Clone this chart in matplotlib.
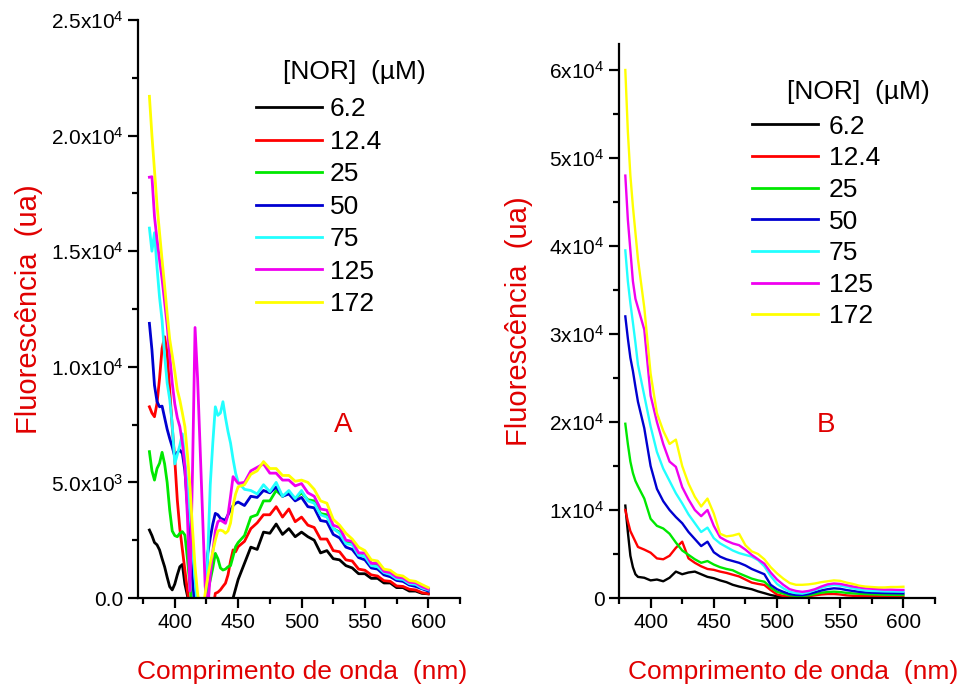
import matplotlib
matplotlib.use('Agg')
import matplotlib.pyplot as plt
from matplotlib.ticker import MultipleLocator

plt.rcParams['font.family'] = ['Liberation Sans', 'DejaVu Sans']
plt.rcParams['mathtext.fontset'] = 'custom'
plt.rcParams['mathtext.rm'] = 'Liberation Sans'
plt.rcParams['mathtext.it'] = 'Liberation Sans:italic'
plt.rcParams['mathtext.bf'] = 'Liberation Sans:bold'

# ---------------- data ----------------
concentrations = ['6.2', '12.4', '25', '50', '75', '125', '172']
colors = ['#000000', '#ff0000', '#00e800', '#0000d0', '#22ffff', '#f000f0', '#ffff00']

wl_a = [380, 382, 384, 386, 388, 390, 392, 394, 396, 398, 400, 402, 404, 406, 408, 410,
        412, 414, 416, 418, 420, 422, 424, 426, 428, 430, 432, 434, 436, 438, 440, 442,
        444, 446, 448, 450,
        455, 460, 465, 470, 475, 480, 485, 490, 495,
        500, 505, 510, 515, 520, 525, 530, 535, 540, 545, 550, 555, 560, 565, 570, 575,
        580, 585, 590, 595, 600]

a_62 = [2940, 2700, 2400, 2300, 2080, 1700, 1350, 900, 490, 350, 600, 1000, 1350, 1450, 600, 100,
        -500, -500, -500, -500, -500, -500, -500, -500, -500, -500, -500, -500, -500, -500, -500, -500,
        -200, 0, 400, 800,
        1500, 2200, 2100, 2850, 2800, 3200, 2750, 3000, 2650,
        2850, 2650, 2500, 1950, 2050, 1700, 1650, 1400, 1300, 1050, 1050, 850, 850, 650, 650, 450,
        450, 300, 300, 200, 180]
a_124 = [8270, 8000, 7840, 8420, 9500, 10800, 11300, 10580, 9000, 7400, 6000, 4240, 3000, 2100, 1200, 300,
         -500, -500, -500, -500, -500, -500, -500, -500, -500, -500, 200, 250, 350, 500, 640, 1000,
         1600, 2080, 2000, 2220,
         2450, 3000, 3250, 3600, 3600, 3950, 3500, 3850, 3300,
         3500, 3150, 3050, 2550, 2550, 2050, 2000, 1650, 1600, 1250, 1200, 1000, 950, 750, 720, 520,
         500, 380, 350, 230, 180]
a_25 = [6330, 5500, 5100, 5600, 5830, 6300, 5800, 5000, 3800, 2900, 2700, 2650, 2800, 2870, 2720, 1700,
        500, -500, -500, -500, -500, -500, -500, 300, 780, 1300, 1930, 1700, 1300, 1210, 1250, 1350,
        1400, 1800, 2220, 2400,
        2700, 3500, 3600, 4200, 4200, 4650, 4400, 4550, 4300,
        4550, 4250, 4200, 3650, 3600, 3000, 2850, 2400, 2350, 1900, 1800, 1500, 1400, 1150, 1050, 860,
        820, 670, 620, 460, 380]
a_50 = [11880, 10730, 9200, 8500, 8270, 8300, 7800, 7300, 6900, 6540, 6110, 6300, 6400, 6250, 5500, 4000,
        2500, 800, -500, -500, -500, -500, -500, 1930, 2600, 3200, 3660, 3600, 3450, 3400, 3370, 3600,
        3800, 4000, 4100, 4150,
        4000, 4400, 4350, 4650, 4550, 4800, 4400, 4500, 4200,
        4350, 3950, 3900, 3350, 3300, 2750, 2600, 2200, 2100, 1750, 1650, 1300, 1250, 1000, 920, 760,
        720, 560, 500, 400, 300]
a_75 = [16000, 15000, 15800, 14300, 13000, 12000, 10500, 9300, 8600, 7500, 5800, 6200, 6600, 7100, 5900, 4800,
        3600, 2200, 800, -500, -500, -500, -300, 1800, 4900, 6700, 8270, 7900, 8000, 8490, 7800, 7200,
        6700, 6000, 5400, 5000,
        4700, 4650, 4500, 4900, 4600, 5000, 4400, 4650, 4300,
        4650, 4200, 4100, 3600, 3500, 3000, 2800, 2350, 2300, 1850, 1800, 1400, 1350, 1100, 1020, 830,
        800, 620, 590, 430, 350]
a_125 = [18200, 18220, 16500, 15500, 14620, 13800, 12800, 11800, 10500, 9300, 8400, 7800, 7410, 6700, 5680, 3500,
         300, 5500, 11700, 9500, 6500, 3500, 500, -500, 1000, 2000, 2900, 3300, 3370, 3300, 3230, 3600,
         4400, 5250, 5100, 4960,
         5000, 5500, 5650, 5800, 5400, 5400, 5100, 5100, 4850,
         4950, 4550, 4400, 3850, 3800, 3150, 3050, 2500, 2450, 1950, 1950, 1500, 1500, 1150, 1100, 900,
         870, 680, 660, 490, 380]
a_172 = [21700, 20000, 18500, 17000, 15800, 14620, 13500, 12300, 11200, 10500, 9800, 9000, 8560, 8000, 7410, 6200,
         4810, 3000, 1350, 200, -500, -500, 200, 900, 1500, 2000, 2500, 2900, 2940, 2900, 2800, 2900,
         3240, 4000, 4500, 4810,
         4900, 5350, 5500, 5900, 5600, 5600, 5300, 5300, 5050,
         5100, 5000, 4700, 4200, 4100, 3400, 3150, 2800, 2550, 2200, 2050, 1650, 1600, 1250, 1200, 1000,
         950, 760, 720, 580, 450]

wl_b = [380, 382, 384, 386, 388, 390,
        395, 400, 405, 410, 415, 420, 425, 430, 435, 440, 445, 450, 455, 460, 465, 470, 475, 480,
        485, 490, 495, 500, 505, 510, 515, 520, 525, 530, 535, 540, 545, 550, 555, 560, 565, 570,
        575, 580, 585, 590, 595, 600]

b_62 = [10500, 7500, 4800, 3500, 2700, 2400,
        2300, 2000, 2100, 1900, 2300, 3000, 2700, 2900, 3000, 2700, 2400, 2250, 2000, 1800, 1500, 1300, 1150, 1000,
        750, 550, 340, 200, 100, 0, -500, -500, -500, -500, -500, -500, -500, -500, -500, -500, -500, -500,
        -500, -500, -500, -500, -500, -500]
b_124 = [10000, 8700, 7600, 7000, 6400, 5800,
         5500, 5150, 4500, 4400, 4800, 5700, 6400, 4500, 4000, 3600, 3300, 3200, 3000, 2850, 2650, 2450, 2100, 1750,
         1600, 1480, 900, 400, 230, 150, 120, 150, 200, 300, 400, 450, 450, 400, 300, 250, 230, 230,
         220, 200, 180, 160, 150, 150]
b_25 = [19800, 17500, 15500, 14200, 13300, 12700,
        11300, 9000, 8200, 7900, 7300, 6300, 5400, 4900, 4400, 4000, 4200, 3800, 3500, 3300, 3150, 2800, 2500, 2200,
        2000, 1850, 1200, 700, 500, 300, 250, 220, 300, 450, 600, 680, 720, 680, 580, 520, 480, 450,
        420, 400, 380, 360, 350, 340]
b_50 = [32000, 29500, 27300, 25800, 24000, 22300,
        19300, 15000, 12400, 11000, 10000, 9200, 8500, 7500, 6700, 5900, 6400, 5200, 4700, 4400, 4200, 4000, 3700, 3300,
        3000, 2700, 1500, 1000, 700, 450, 350, 330, 450, 650, 850, 1000, 1100, 1050, 900, 800, 700, 640,
        600, 580, 560, 550, 540, 530]
b_75 = [39500, 36000, 33500, 31300, 29000, 26500,
        23000, 19500, 16600, 14700, 13300, 11900, 10750, 9500, 8500, 7500, 8000, 6800, 6200, 5800, 5400, 5100, 4900, 4700,
        4300, 3600, 2500, 1600, 1100, 700, 550, 500, 650, 900, 1150, 1350, 1480, 1400, 1250, 1100, 950, 850,
        800, 780, 750, 740, 730, 720]
b_125 = [48000, 43000, 39500, 36000, 34000, 33000,
         30500, 23000, 20000, 17500, 15500, 14900, 12600, 11200, 10000, 9300, 10000, 8200, 6900, 6500, 6200, 6000, 5500, 4900,
         4400, 3900, 2900, 2100, 1500, 1000, 800, 700, 800, 1000, 1300, 1550, 1650, 1600, 1450, 1300, 1200, 1100,
         1050, 1000, 950, 950, 920, 910]
b_172 = [60000, 53000, 48000, 44500, 41500, 38500,
         33000, 25500, 21000, 19000, 17500, 18000, 15000, 13000, 11500, 10400, 11300, 9600, 7300, 7000, 7100, 7300, 6000, 5300,
         5000, 4400, 3500, 2800, 2200, 1700, 1500, 1500, 1550, 1650, 1800, 1900, 2000, 1950, 1750, 1600, 1400, 1300,
         1250, 1200, 1200, 1250, 1250, 1280]

series_a = [a_62, a_124, a_25, a_50, a_75, a_125, a_172]
series_b = [b_62, b_124, b_25, b_50, b_75, b_125, b_172]

x_ticks = [400, 450, 500, 550, 600]
x_tick_labels = ['400', '450', '500', '550', '600']
ya_ticks = [0, 5000, 10000, 15000, 20000, 25000]
ya_tick_labels = ['0.0', r'5.0x10$^{3}$', r'1.0x10$^{4}$', r'1.5x10$^{4}$', r'2.0x10$^{4}$', r'2.5x10$^{4}$']
yb_ticks = [0, 10000, 20000, 30000, 40000, 50000, 60000]
yb_tick_labels = ['0', r'1x10$^{4}$', r'2x10$^{4}$', r'3x10$^{4}$', r'4x10$^{4}$', r'5x10$^{4}$', r'6x10$^{4}$']

legend_title = '[NOR]  (\u00b5M)'
ylabel = 'Fluoresc\u00eancia  (ua)'
xlabel = 'Comprimento de onda  (nm)'
label_red = '#e00000'

# ---------------- figure ----------------
fig = plt.figure(figsize=(9.57, 6.91), dpi=100)
W, H = 957.0, 691.0
axA = fig.add_axes([138 / W, (H - 598) / H, 322 / W, 578 / H])
axB = fig.add_axes([619 / W, (H - 598) / H, 316 / W, 554.4 / H])


def style(ax, yticks, ylabels, ymax, minor_y, xmin):
    for s in ['top', 'right']:
        ax.spines[s].set_visible(False)
    for s in ['left', 'bottom']:
        ax.spines[s].set_linewidth(1.6)
    ax.set_xlim(xmin, 625)
    ax.set_ylim(0, ymax)
    ax.set_xticks(x_ticks, labels=x_tick_labels)
    ax.set_yticks(yticks, labels=ylabels)
    ax.xaxis.set_minor_locator(MultipleLocator(25))
    ax.yaxis.set_minor_locator(MultipleLocator(minor_y))
    ax.tick_params(which='major', direction='out', length=7.5, width=1.6, labelsize=15, pad=3)
    ax.tick_params(which='minor', direction='out', length=4.5, width=1.6)


for ax, data, wl, lw in [(axA, series_a, wl_a, 2.0), (axB, series_b, wl_b, 1.7)]:
    for vals, c, lab in zip(data, colors, concentrations):
        ax.plot(wl, vals, color=c, lw=lw, label=lab, solid_joinstyle='round')

style(axA, ya_ticks, ya_tick_labels, 25000, 2500, 371)
style(axB, yb_ticks, yb_tick_labels, 63000, 5000, 375)

# legends
legA = axA.legend(loc='upper left', bbox_to_anchor=(0.366, 0.866), frameon=False, fontsize=19,
                  handlelength=2.5, handletextpad=0.3, labelspacing=0.32, borderpad=0, borderaxespad=0)
legB = axB.legend(loc='upper left', bbox_to_anchor=(0.421, 0.872), frameon=False, fontsize=19,
                  handlelength=2.5, handletextpad=0.42, labelspacing=0.29, borderpad=0, borderaxespad=0)
for leg in (legA, legB):
    for line in leg.get_lines():
        line.set_linewidth(2.0)

axA.text(0.450, 0.910, legend_title, transform=axA.transAxes, fontsize=19, ha='left', va='center')
axB.text(0.532, 0.913, legend_title, transform=axB.transAxes, fontsize=19, ha='left', va='center')

axA.text(0.637, 0.299, 'A', transform=axA.transAxes, fontsize=20, color=label_red, ha='center', va='center')
axB.text(0.655, 0.312, 'B', transform=axB.transAxes, fontsize=20, color=label_red, ha='center', va='center')

for ax, xc, yl_x, xl_y in [(axA, 0.51, -0.295, -0.107), (axB, 0.55, -0.272, -0.112)]:
    ax.set_ylabel(ylabel, fontsize=21, color=label_red)
    ax.set_xlabel(xlabel, fontsize=19, color=label_red)
    ax.yaxis.set_label_coords(yl_x, 0.5)
    ax.xaxis.set_label_coords(xc, xl_y)

fig.savefig('out.png', dpi=100)
